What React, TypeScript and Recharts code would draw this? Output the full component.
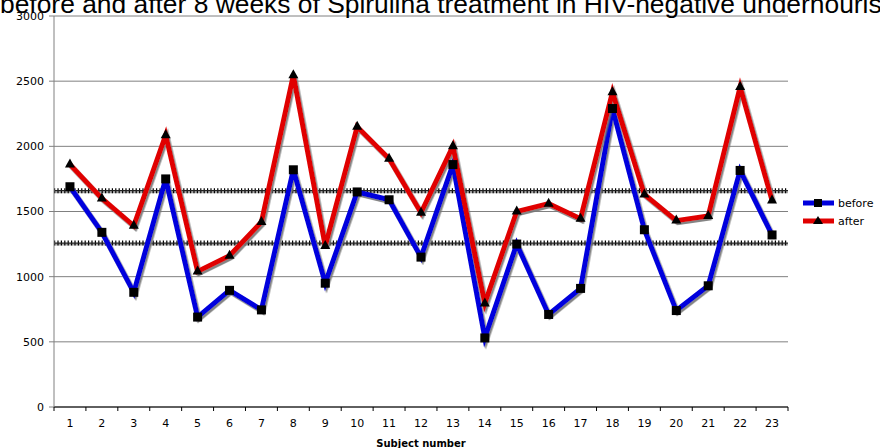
import React from "react";
import {
  CartesianGrid,
  Legend,
  Line,
  LineChart,
  ReferenceLine,
  XAxis,
  YAxis,
} from "recharts";

const SUBJECTS = [
  "1", "2", "3", "4", "5", "6", "7", "8", "9", "10", "11", "12",
  "13", "14", "15", "16", "17", "18", "19", "20", "21", "22", "23",
];
const BEFORE = [
  1690, 1340, 880, 1750, 690, 895, 745, 1820, 950, 1650, 1590, 1150,
  1860, 530, 1250, 710, 910, 2290, 1360, 740, 930, 1815, 1320,
];
const AFTER = [
  1860, 1600, 1390, 2085, 1040, 1160, 1420, 2545, 1235, 2150, 1905, 1490,
  2000, 795, 1500, 1560, 1445, 2415, 1630, 1430, 1465, 2455, 1585,
];
const Y_TICKS = [0, 500, 1000, 1500, 2000, 2500, 3000];
const REF_LEVELS = [1660, 1258];
const TITLE =
  "before and after 8 weeks of Spirulina treatment in HIV-negative undernourished children";

const W = 880;
const H = 448;
const LEFT = 54;
const RIGHT = 92;
const PLOT_W = W - LEFT - RIGHT;
const HALF_BAND = PLOT_W / SUBJECTS.length / 2;
const FONT = "'DejaVu Sans', Verdana, sans-serif";

const data = SUBJECTS.map((s, i) => ({ subject: s, before: BEFORE[i], after: AFTER[i] }));

const Square = (props: any) => {
  const { cx, cy, index } = props;
  if (cx == null || cy == null) return <g key={`s${index}`} />;
  return <rect key={`s${index}`} x={cx - 4.5} y={cy - 4.5} width={9} height={9} fill="#000" />;
};

const Triangle = (props: any) => {
  const { cx, cy, index } = props;
  if (cx == null || cy == null) return <g key={`t${index}`} />;
  return (
    <path
      key={`t${index}`}
      d={`M${cx},${cy - 6} L${cx + 5},${cy + 3} L${cx - 5},${cy + 3} Z`}
      fill="#000"
    />
  );
};

const XTick = (props: any) => {
  const { x, y, payload, index } = props;
  const last = index === SUBJECTS.length - 1;
  return (
    <g>
      <line x1={x - HALF_BAND} x2={x - HALF_BAND} y1={y} y2={y + 4} stroke="#000" />
      {last && <line x1={x + HALF_BAND} x2={x + HALF_BAND} y1={y} y2={y + 4} stroke="#000" />}
      <text x={x} y={y + 20} textAnchor="middle" fontSize={11} fontFamily={FONT} fill="#000">
        {payload.value}
      </text>
    </g>
  );
};

const LegendBox = () => (
  <svg width={80} height={40}>
    <g>
      <line x1={3} x2={34} y1={7} y2={7} stroke="#0000dd" strokeWidth={5} />
      <rect x={14} y={3} width={8} height={8} fill="#000" />
      <text x={38} y={11} fontSize={11} fontFamily={FONT} fill="#000">before</text>
    </g>
    <g>
      <line x1={3} x2={34} y1={25} y2={25} stroke="#e00000" strokeWidth={5} />
      <path d="M18,20 L23,28 L13,28 Z" fill="#000" />
      <text x={38} y={29} fontSize={11} fontFamily={FONT} fill="#000">after</text>
    </g>
  </svg>
);

export default function App() {
  return (
    <div
      style={{
        position: "fixed",
        left: 0,
        top: 0,
        width: W,
        height: H,
        overflow: "hidden",
        background: "#fff",
      }}
    >
      <LineChart
        width={W}
        height={H}
        data={data}
        margin={{ top: 16, right: RIGHT, left: 0, bottom: 0 }}
      >
        <defs>
          <filter id="shadow" x="-5%" y="-5%" width="110%" height="115%">
            <feDropShadow dx={1.5} dy={2} stdDeviation={0.4} floodColor="#777" floodOpacity={0.9} />
          </filter>
        </defs>
        <CartesianGrid vertical={false} stroke="#808080" />
        <XAxis
          dataKey="subject"
          height={41}
          padding={{ left: HALF_BAND, right: HALF_BAND }}
          axisLine={{ stroke: "#000" }}
          tickLine={false}
          tickSize={0}
          tickMargin={0}
          interval={0}
          tick={<XTick />}
          label={{
            value: "Subject number",
            position: "insideBottom",
            offset: 0,
            dy: -1,
            style: { fontFamily: FONT, fontSize: 10, fontWeight: "bold", fill: "#000" },
          }}
        />
        <YAxis
          width={LEFT}
          domain={[0, 3000]}
          ticks={Y_TICKS}
          interval={0}
          axisLine={{ stroke: "#808080" }}
          tickLine={{ stroke: "#808080" }}
          tickSize={5}
          tickMargin={5}
          tick={{ fontSize: 11, fontFamily: FONT, fill: "#000" }}
        />
        {REF_LEVELS.map((v) => (
          <ReferenceLine
            key={`g${v}`}
            y={v - 12}
            stroke="#aaa"
            strokeWidth={2}
            ifOverflow="visible"
          />
        ))}
        {REF_LEVELS.map((v) => (
          <ReferenceLine
            key={`r${v}`}
            y={v}
            stroke="#000"
            strokeWidth={5}
            strokeDasharray="1.2 2.2"
            ifOverflow="visible"
          />
        ))}
        {REF_LEVELS.map((v) => (
          <ReferenceLine key={`c${v}`} y={v} stroke="#222" strokeWidth={1.2} ifOverflow="visible" />
        ))}
        <Line
          dataKey="before"
          type="linear"
          stroke="#0000dd"
          strokeWidth={5}
          dot={Square}
          activeDot={false}
          isAnimationActive={false}
          filter="url(#shadow)"
        />
        <Line
          dataKey="after"
          type="linear"
          stroke="#e00000"
          strokeWidth={5}
          dot={Triangle}
          activeDot={false}
          isAnimationActive={false}
          filter="url(#shadow)"
        />
        <Legend
          layout="horizontal"
          verticalAlign="middle"
          align="center"
          content={<LegendBox />}
          wrapperStyle={{ position: "absolute", left: 800, top: 196, width: 80, height: 40 }}
        />
      </LineChart>
      <svg
        width={W}
        height={30}
        style={{ position: "absolute", left: 0, top: 0, pointerEvents: "none" }}
      >
        <text
          x={0}
          y={12.5}
          fontSize={26.4}
          fontFamily="'Liberation Sans', Arial, sans-serif"
          fill="#000"
        >
          {TITLE}
        </text>
      </svg>
    </div>
  );
}
